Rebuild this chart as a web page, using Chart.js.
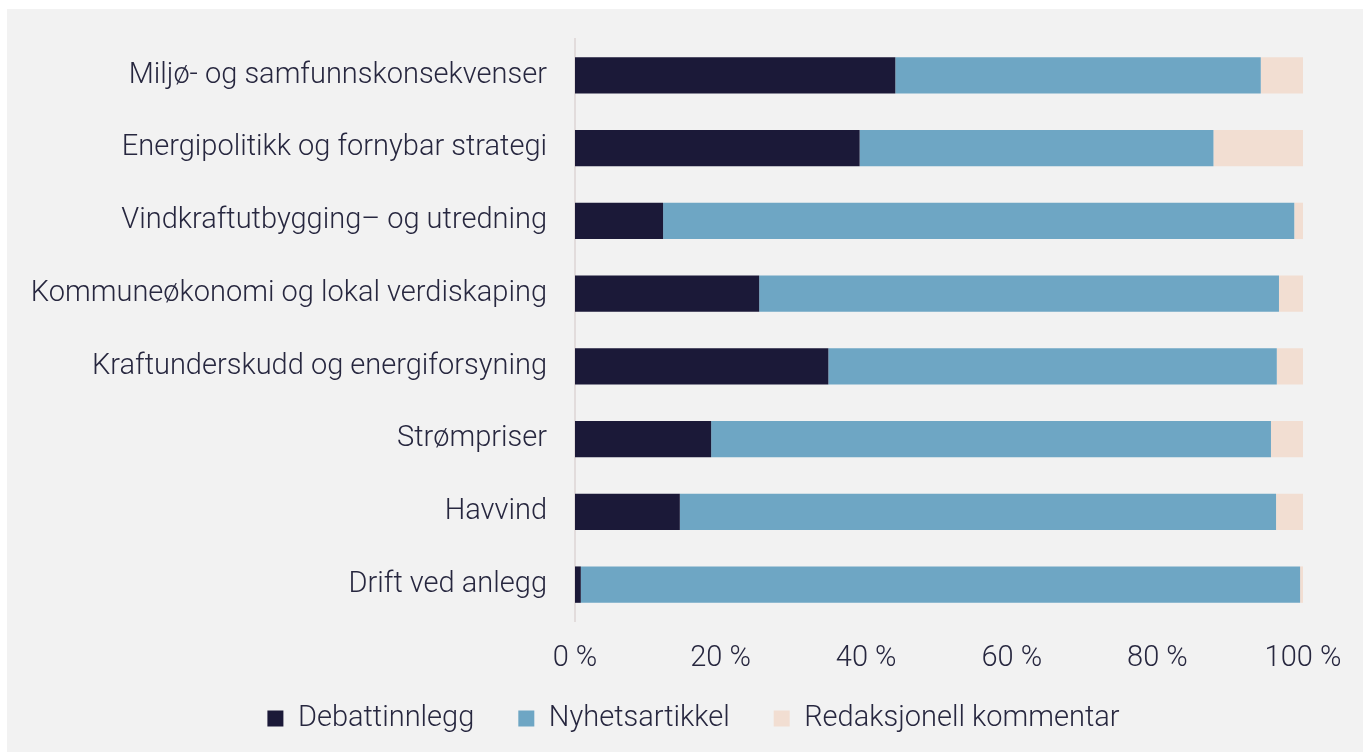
<!DOCTYPE html>
<html>
<head>
<meta charset="utf-8">
<script src="https://cdn.jsdelivr.net/npm/chart.js@4.4.4/dist/chart.umd.min.js"></script>
<style>
  html, body { margin: 0; padding: 0; background: #ffffff; }
  #wrap { position: absolute; left: 7px; top: 9px; width: 1356px; height: 743px; background: #f2f2f2; }
</style>
</head>
<body>
<div id="wrap"><canvas id="chart" width="1356" height="743"></canvas></div>
<script>
const categories = [
    'Miljø- og samfunnskonsekvenser',
    'Energipolitikk og fornybar strategi',
    'Vindkraftutbygging– og utredning',
    'Kommuneøkonomi og lokal verdiskaping',
    'Kraftunderskudd og energiforsyning',
    'Strømpriser',
    'Havvind',
    'Drift ved anlegg'
];

const debattinnlegg = [44.0, 39.1, 12.1, 25.3, 34.8, 18.7, 14.4, 0.8];
const nyhetsartikkel = [50.2, 48.6, 86.7, 71.4, 61.6, 76.9, 81.9, 98.8];
const redaksjonell = [5.8, 12.3, 1.2, 3.3, 3.6, 4.4, 3.7, 0.4];

const xTicks = [0, 20, 40, 60, 80, 100];

const textColor = '#27273f';
Chart.defaults.font.family = 'Roboto';
Chart.defaults.font.weight = 300;
Chart.defaults.color = textColor;

const data = {
    labels: categories,
    datasets: [
        { label: 'Debattinnlegg', data: debattinnlegg, backgroundColor: '#1b1938' },
        { label: 'Nyhetsartikkel', data: nyhetsartikkel, backgroundColor: '#6ea6c4' },
        { label: 'Redaksjonell kommentar', data: redaksjonell, backgroundColor: '#f2ded2' }
    ]
};

// labels hang outside the axis boxes, so drop the clip and the edge padding
function loosen(scale) {
    scale.paddingTop = 0;
    scale.paddingBottom = 0;
    scale.paddingLeft = 0;
    scale.paddingRight = 0;
    scale._computeLabelArea = () => undefined;
}

new Chart(document.getElementById('chart'), {
    type: 'bar',
    data,
    options: {
        indexAxis: 'y',
        responsive: false,
        animation: false,
        barPercentage: 0.5,
        categoryPercentage: 1,
        layout: { padding: { top: 30, right: 60, left: 77, bottom: 9 } },
        plugins: {
            tooltip: { enabled: false },
            legend: {
                position: 'bottom',
                labels: {
                    boxWidth: 16,
                    boxHeight: 16,
                    padding: 44,
                    font: { size: 29, weight: 300 },
                    color: textColor
                }
            }
        },
        scales: {
            x: {
                stacked: true,
                min: 0,
                max: 100,
                afterBuildTicks: (scale) => { scale.ticks = xTicks.map(v => ({ value: v })); },
                afterFit: (scale) => { scale.height = 39; loosen(scale); },
                grid: { display: false, drawTicks: false },
                border: { display: false },
                ticks: {
                    padding: 20,
                    font: { size: 29, weight: 300 },
                    callback: (v) => v + ' %'
                }
            },
            y: {
                stacked: true,
                afterFit: (scale) => { scale.width = 491; loosen(scale); },
                grid: { display: false, drawTicks: false },
                border: { display: true, color: '#e2dcdc', width: 2 },
                ticks: {
                    padding: 28,
                    font: { size: 29, weight: 300 }
                }
            }
        }
    }
});
</script>
</body>
</html>
